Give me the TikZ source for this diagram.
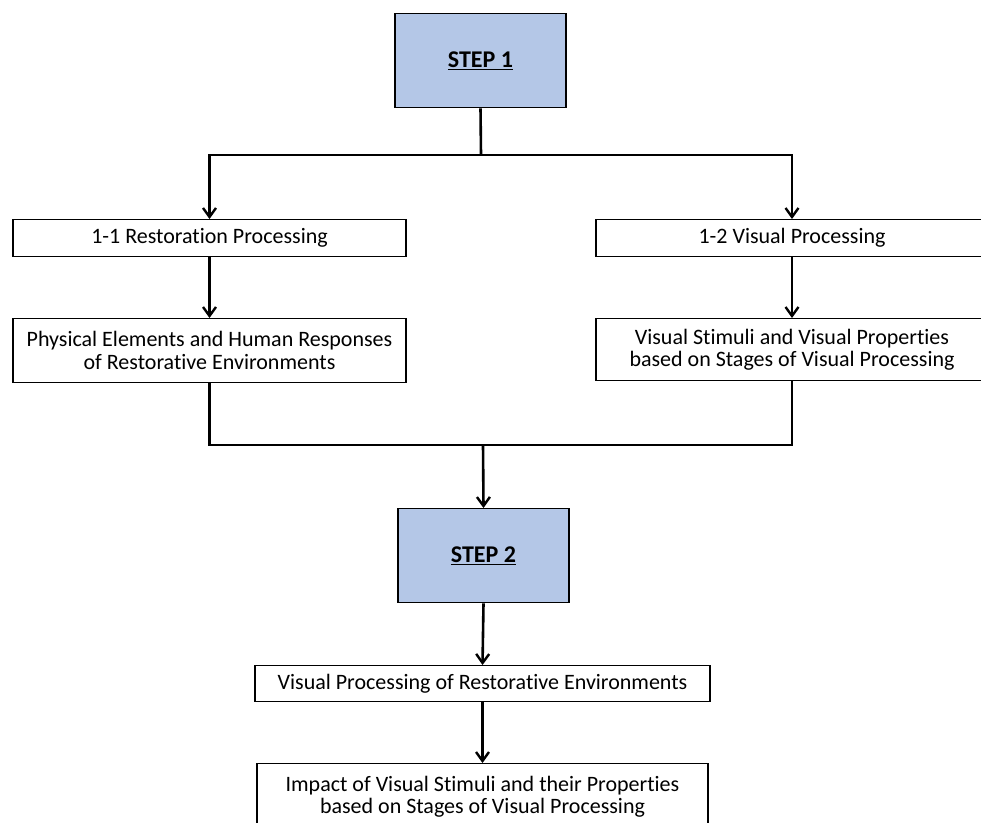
\documentclass[tikz,border=0pt]{standalone}
\usepackage{fontspec}
\setmainfont[Ligatures=NoCommon]{Carlito}
\usetikzlibrary{arrows.meta}
\definecolor{stepblue}{HTML}{B4C7E7}
\begin{document}
\begin{tikzpicture}[x=1pt,y=-1pt,
  box/.style={draw=black,line width=1.3pt,fill=white,anchor=north,inner sep=0pt,
    align=center,font=\fontsize{22}{22.5}\selectfont},
  stepbox/.style={box,fill=stepblue,font=\fontsize{24}{26}\selectfont\bfseries},
  link/.style={line width=2.6pt},
  arr/.style={link,-{Straight Barb[length=9pt,width=13pt,line width=2.4pt]}}]
\useasboundingbox (0,0) rectangle (981,822);

% step 1 and its two branches
\node[stepbox,minimum width=171pt,minimum height=94pt] (s1) at (480.5,13) {\underline{STEP 1}};
\node[box,minimum width=393pt,minimum height=37pt] (b11) at (209.5,219) {1-1 Restoration Processing};
\node[box,minimum width=392pt,minimum height=37pt] (b12) at (792,219) {1-2 Visual Processing};
\node[box,minimum width=393pt,minimum height=64pt] (b21) at (209.5,318) {Physical Elements and Human Responses\\of Restorative Environments};
\node[box,minimum width=392pt,minimum height=62pt] (b22) at (792,318) {Visual Stimuli and Visual Properties\\based on Stages of Visual Processing};

% step 2 and its outcomes
\node[stepbox,minimum width=171pt,minimum height=94pt] (s2) at (483.5,508) {\underline{STEP 2}};
\node[box,minimum width=455pt,minimum height=36pt] (c1) at (482.5,665) {Visual Processing of Restorative Environments};
\node[box,minimum width=451pt,minimum height=66pt] (c2) at (482.5,763) {Impact of Visual Stimuli and their Properties\\based on Stages of Visual Processing};

% junctions
\coordinate (j1) at (481,155);
\coordinate (j2) at (483,445);

\draw[link] (s1.south) -- (j1);
\draw[arr] (j1) -| (b11.north);
\draw[arr] (j1) -| (b12.north);
\draw[arr] (b11.south) -- (b21.north);
\draw[arr] (b12.south) -- (b22.north);
\draw[link] (b21.south) |- (j2);
\draw[link] (b22.south) |- (j2);
\draw[arr] (j2) -- (s2.north);
\draw[arr] (s2.south) -- (c1.north);
\draw[arr] (c1.south) -- (c2.north);
\end{tikzpicture}
\end{document}
